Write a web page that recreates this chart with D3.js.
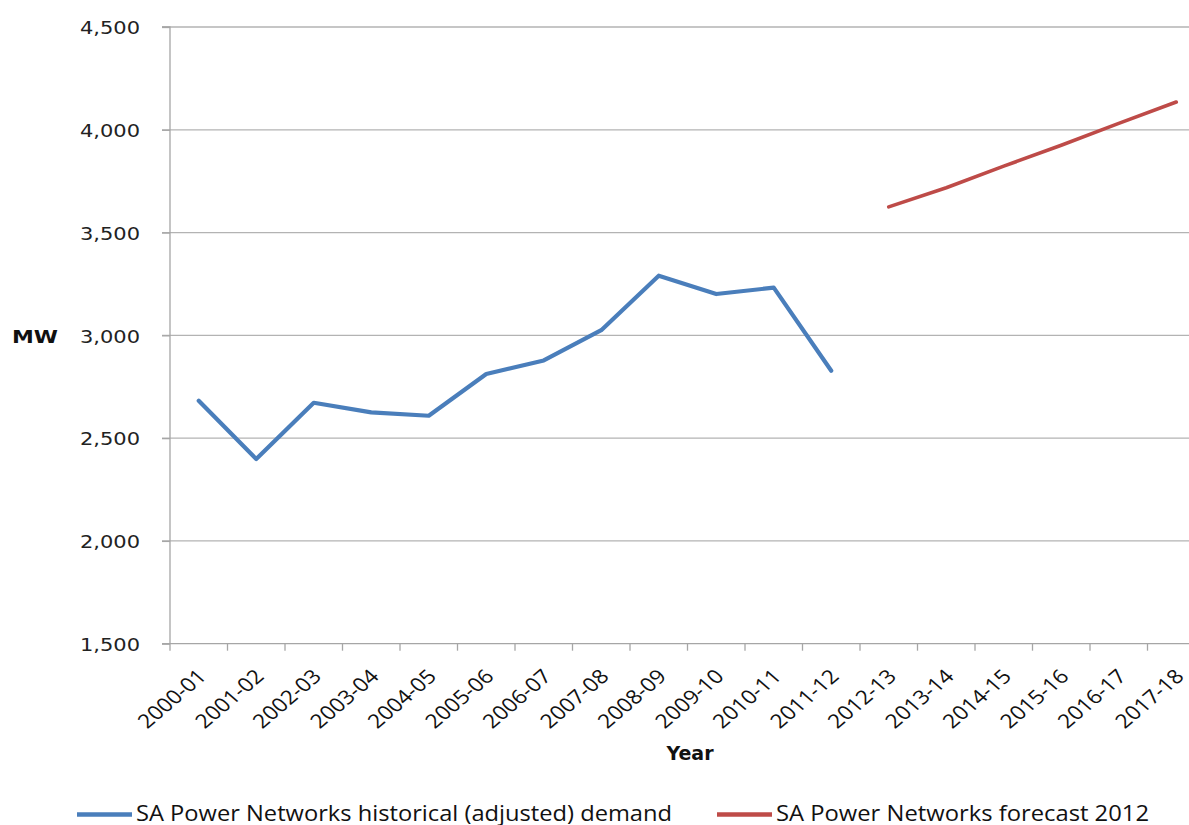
<!DOCTYPE html>
<html><head><meta charset="utf-8">
<script src="https://cdn.jsdelivr.net/npm/d3@7"></script>
<style>
html,body{margin:0;padding:0;background:#fff;}
svg{display:block;}
</style></head>
<body>
<svg id="c" width="1189" height="825"></svg>
<script>
const categories = ["2000-01","2001-02","2002-03","2003-04","2004-05","2005-06","2006-07","2007-08","2008-09","2009-10","2010-11","2011-12","2012-13","2013-14","2014-15","2015-16","2016-17","2017-18"];
const historical = [2682,2398,2672,2625,2609,2812,2878,3025,3290,3201,3232,2828,null,null,null,null,null,null];
const forecast = [null,null,null,null,null,null,null,null,null,null,null,null,3625,3718,3823,3925,4031,4135];
const yTicks = [1500,2000,2500,3000,3500,4000,4500];
const seriesNames = ["SA Power Networks historical (adjusted) demand","SA Power Networks forecast 2012"];
const seriesColors = ["#4a7ebb","#be4b48"];

const svg = d3.select("#c");
const plotLeft = 170, plotTop = 27, plotBottom = 643.7, step = 57.5;
const x = d3.scaleBand().domain(categories).range([plotLeft, plotLeft + step*categories.length]).padding(0);
const y = d3.scaleLinear().domain([1500,4500]).range([plotBottom, plotTop]);

// gridlines
svg.append("g").selectAll("line").data(yTicks.filter(d=>d>1500)).join("line")
  .attr("x1", plotLeft-8).attr("x2", 1189).attr("y1", d=>y(d)).attr("y2", d=>y(d))
  .attr("stroke", "#b3b3b3").attr("stroke-width", 1.3);

// y axis
const yAxis = d3.axisLeft(y).tickValues(yTicks).tickSize(8).tickPadding(22).tickFormat(d3.format(","));
const gy = svg.append("g").attr("transform", `translate(${plotLeft},0)`).call(yAxis);
gy.select(".domain").attr("stroke","#a6a6a6").attr("stroke-width",1.3).attr("d", `M-8,${y(4500)}H0V${plotBottom}`);
gy.selectAll(".tick line").attr("stroke","#a6a6a6").attr("stroke-width",1.3);
gy.selectAll(".tick text").attr("font-family","DejaVu Sans, Verdana, sans-serif").attr("font-size",18.5).attr("fill","#222")
  .attr("x",-30).attr("dy","0.36em").attr("textLength",60).attr("lengthAdjust","spacingAndGlyphs");

// x axis
const xAxis = d3.axisBottom(x).tickSize(0).tickFormat(d=>d);
const gx = svg.append("g").attr("transform", `translate(0,${plotBottom})`).call(xAxis);
gx.select(".domain").attr("stroke","#a6a6a6").attr("stroke-width",1.3).attr("d", `M${plotLeft-8},0H1189`);
gx.selectAll(".tick line").remove();
// boundary ticks
svg.append("g").selectAll("line").data(categories).join("line")
  .attr("x1", d=>x(d)).attr("x2", d=>x(d)).attr("y1", plotBottom).attr("y2", plotBottom+7)
  .attr("stroke","#a6a6a6").attr("stroke-width",1.3);
gx.selectAll(".tick text")
  .attr("font-family","Open Sans, sans-serif").attr("font-size",19.5).attr("fill","#111")
  .attr("text-anchor","end").attr("y",0).attr("dy",0)
  .attr("transform", `translate(9,34) scale(1.17,1) rotate(-45)`);

// lines
const line = d3.line().defined(d=>d.v!=null).x(d=>x(d.c)+x.bandwidth()/2).y(d=>y(d.v));
[historical, forecast].forEach((s,i)=>{
  svg.append("path").datum(categories.map((c,j)=>({c, v:s[j]})))
    .attr("d", line).attr("fill","none").attr("stroke", seriesColors[i])
    .attr("stroke-width", i==0?4.2:3.6).attr("stroke-linejoin","round").attr("stroke-linecap","round");
});

// axis titles
svg.append("text").attr("x",12).attr("y",343).text("MW")
  .attr("font-family","DejaVu Sans, Verdana, sans-serif").attr("font-weight","bold").attr("font-size",18).attr("fill","#111")
  .attr("textLength",46).attr("lengthAdjust","spacingAndGlyphs");
svg.append("text").attr("x",690).attr("y",760).attr("text-anchor","middle").text("Year")
  .attr("font-family","DejaVu Sans, Verdana, sans-serif").attr("font-weight","bold").attr("font-size",19).attr("fill","#111");

// legend
const legX = [77, 717];
const legW = [536, 373];
const leg = svg.append("g");
seriesNames.forEach((n,i)=>{
  leg.append("line").attr("x1",legX[i]).attr("x2",legX[i]+55).attr("y1",814.5).attr("y2",814.5)
    .attr("stroke",seriesColors[i]).attr("stroke-width",4.5);
  leg.append("text").attr("x",legX[i]+59).attr("y",820.5).text(n)
    .attr("font-family","Open Sans, sans-serif").attr("font-size",21).attr("fill","#111")
    .attr("textLength",legW[i]).attr("lengthAdjust","spacingAndGlyphs");
});
</script>
</body></html>
